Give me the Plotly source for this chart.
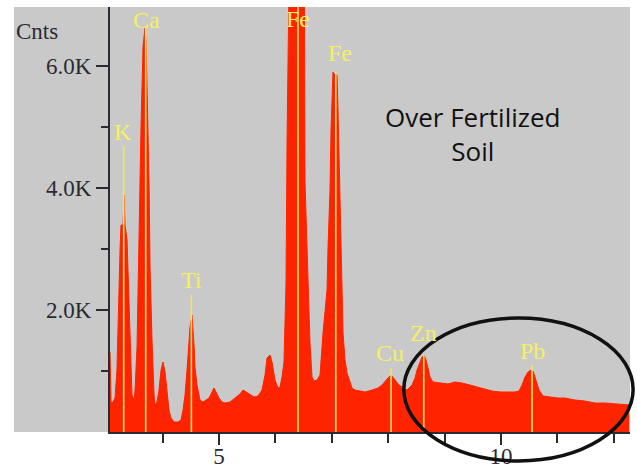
import plotly.graph_objects as go

# ---- spectrum (energy keV, counts) ----
energy = [3.067, 3.085, 3.12, 3.156, 3.19, 3.209, 3.227, 3.245, 3.262, 3.298, 3.316, 3.333,
          3.369, 3.387, 3.404, 3.422, 3.457, 3.493, 3.511, 3.546, 3.564, 3.599, 3.617, 3.652,
          3.688, 3.706, 3.723, 3.741, 3.759, 3.777, 3.794, 3.812, 3.848, 3.865, 3.9, 3.936,
          3.972, 4.007, 4.043, 4.078, 4.113, 4.149, 4.202, 4.273, 4.326, 4.362, 4.397, 4.433,
          4.468, 4.486, 4.521, 4.539, 4.557, 4.574, 4.61, 4.663, 4.716, 4.77, 4.823, 4.876,
          4.911, 4.947, 5.0, 5.053, 5.106, 5.195, 5.284, 5.372, 5.426, 5.479, 5.55, 5.621,
          5.691, 5.762, 5.816, 5.851, 5.904, 5.94, 5.993, 6.046, 6.082, 6.117, 6.152, 6.188,
          6.206, 6.223, 6.259, 6.312, 6.365, 6.4, 6.436, 6.472, 6.507, 6.525, 6.56, 6.578,
          6.613, 6.649, 6.684, 6.738, 6.791, 6.844, 6.879, 6.915, 6.933, 6.968, 6.986, 7.004,
          7.021, 7.057, 7.092, 7.11, 7.128, 7.145, 7.163, 7.181, 7.199, 7.234, 7.27, 7.323,
          7.358, 7.411, 7.5, 7.589, 7.713, 7.819, 7.89, 7.961, 7.996, 8.05, 8.085, 8.121,
          8.191, 8.245, 8.333, 8.422, 8.475, 8.511, 8.564, 8.599, 8.635, 8.67, 8.706, 8.741,
          8.794, 8.918, 9.06, 9.184, 9.309, 9.45, 9.574, 9.716, 9.84, 9.982, 10.124, 10.248,
          10.319, 10.372, 10.426, 10.479, 10.532, 10.567, 10.603, 10.638, 10.674, 10.745,
          10.869, 11.011, 11.135, 11.312, 11.489, 11.667, 11.844, 12.021, 12.145, 12.27]
counts = [1311, 475, 492, 557, 1016, 1803, 2606, 2983, 3393, 3393, 3884, 3393,
          3147, 2606, 2163, 1344, 606, 524, 688, 1393, 2377, 3639, 4999, 6310,
          6622, 6425, 5687, 4950, 4098, 2704, 2000, 1508, 606, 443, 492, 688,
          1016, 1147, 983, 606, 361, 229, 164, 164, 197, 361, 606, 1016,
          1508, 1721, 1918, 1721, 1426, 1065, 770, 524, 492, 524, 557, 656,
          721, 656, 557, 492, 475, 492, 557, 623, 688, 656, 623, 574,
          590, 688, 934, 1213, 1262, 1147, 852, 721, 737, 901, 1147, 2442,
          4786, 8000, 12000, 16000, 18500, 19000, 17500, 14000, 9000, 4098, 3147, 2377,
          1459, 901, 836, 852, 934, 1623, 2000, 2327, 3032, 3966, 4950, 5720,
          5900, 5851, 5851, 5278, 4622, 4016, 3147, 2442, 1623, 1180, 967, 820,
          721, 688, 672, 656, 688, 721, 770, 852, 885, 934, 901, 852,
          770, 737, 688, 770, 885, 1016, 1147, 1229, 1262, 1180, 1049, 901,
          820, 803, 787, 820, 803, 770, 737, 705, 672, 656, 656, 656,
          672, 770, 901, 983, 1016, 1000, 901, 803, 688, 590,
          574, 557, 557, 524, 508, 475, 475, 459, 459, 443]

# ---- element markers ----
elements = ["K", "Ca", "Ti", "Fe", "Fe", "Cu", "Zn", "Pb"]
element_kev = [3.31, 3.70, 4.51, 6.40, 7.07, 8.05, 8.63, 10.55]
line_top = [4688, 6622, 2245, 7200, 5900, 1049, 1262, 1098]
label_kev = [3.30, 3.72, 4.52, 6.40, 7.14, 8.03, 8.62, 10.56]
label_cnt = [4917, 6760, 2491, 6769, 6212, 1295, 1623, 1328]

# ---- axes ----
x_range = [3.067, 12.287]
y_range = [0, 6966]
y_tick_vals = [2000, 4000, 6000]
y_tick_text = ["2.0K", "4.0K", "6.0K"]
y_minor_vals = [1000, 3000, 5000]
x_tick_vals = [5, 10]
x_tick_text = ["5", "10"]
x_minor_vals = [4, 6, 7, 8, 9, 11, 12]

RED = "#ff2400"
YEL_LINE = "#f6e45a"
YEL_TEXT = "#f4f062"
GRAY = "#c9c9c9"
AXC = "#2a2a33"
SERIF = "Liberation Serif, Times New Roman, serif"

fig = go.Figure()
fig.add_trace(go.Scatter(x=energy, y=counts, mode="lines", fill="tozeroy",
                         fillcolor=RED, line=dict(color=RED, width=1),
                         hoverinfo="skip", showlegend=False))

lx, ly = [], []
for e, t in zip(element_kev, line_top):
    lx += [e, e, None]
    ly += [0, t, None]
fig.add_trace(go.Scatter(x=lx, y=ly, mode="lines",
                         line=dict(color=YEL_LINE, width=1.6),
                         hoverinfo="skip", showlegend=False))

annotations = []
for name, xk, yc in zip(elements, label_kev, label_cnt):
    annotations.append(dict(x=xk, y=yc, xref="x", yref="y", text=name, showarrow=False,
                            font=dict(family=SERIF, size=24, color=YEL_TEXT),
                            xanchor="center", yanchor="middle"))
annotations.append(dict(x=-0.1846, y=0.9435, xref="paper", yref="paper", text="Cnts",
                        showarrow=False, xanchor="left", yanchor="middle",
                        font=dict(family=SERIF, size=23, color=AXC)))
annotations.append(dict(x=0.698, y=0.701, xref="paper", yref="paper",
                        text="Over Fertilized<br>Soil", showarrow=False,
                        xanchor="center", yanchor="middle", align="center",
                        font=dict(family="Open Sans, Noto Sans, sans-serif", size=26, color="#111111")))

shapes = [
    dict(type="rect", xref="paper", yref="paper", x0=-0.1846, x1=1, y0=0, y1=1,
         fillcolor=GRAY, line=dict(width=0), layer="below"),
    dict(type="circle", xref="paper", yref="paper", x0=0.565, x1=1.006, y0=-0.068, y1=0.268,
         line=dict(color="#111111", width=3.5), layer="above"),
]

fig.update_layout(
    width=637, height=471,
    margin=dict(l=110, r=7, t=7, b=39),
    paper_bgcolor="white", plot_bgcolor=GRAY,
    annotations=annotations, shapes=shapes,
    xaxis=dict(range=x_range, showgrid=False, zeroline=False, automargin=False,
               showline=True, linecolor=AXC, linewidth=2,
               tickmode="array", tickvals=x_tick_vals, ticktext=x_tick_text,
               ticks="outside", ticklen=11, tickwidth=1.5, tickcolor=AXC,
               ticklabelstandoff=-9,
               tickfont=dict(family=SERIF, size=23, color=AXC),
               minor=dict(tickmode="array", tickvals=x_minor_vals, ticks="outside",
                          ticklen=9, tickwidth=1.5, tickcolor=AXC)),
    yaxis=dict(range=y_range, showgrid=False, zeroline=False, automargin=False,
               showline=True, linecolor=AXC, linewidth=2,
               tickmode="array", tickvals=y_tick_vals, ticktext=y_tick_text,
               ticks="outside", ticklen=12, tickwidth=1.5, tickcolor=AXC,
               tickfont=dict(family=SERIF, size=23, color=AXC),
               minor=dict(tickmode="array", tickvals=y_minor_vals, ticks="outside",
                          ticklen=7, tickwidth=1.5, tickcolor=AXC)),
)

fig.write_html("out.html")
